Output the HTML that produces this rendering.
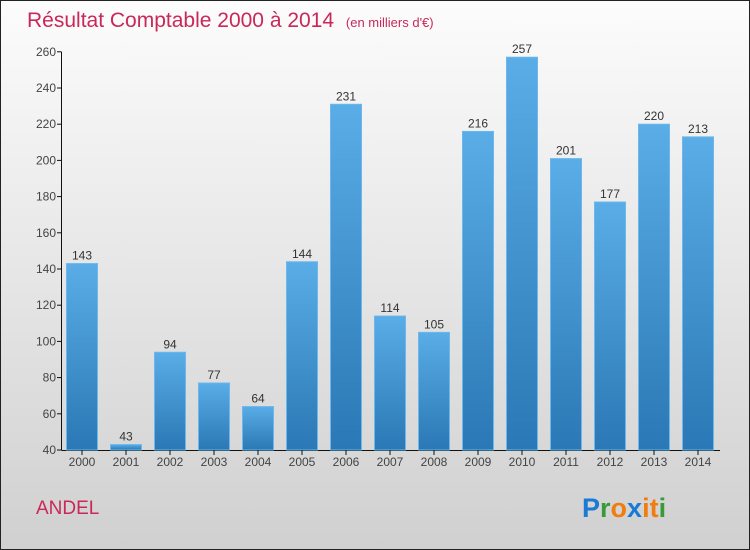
<!DOCTYPE html>
<html><head><meta charset="utf-8"><style>
body{margin:0}
svg{display:block;font-family:"Liberation Sans",sans-serif}
</style></head><body>
<svg width="750" height="550">
<defs>
<linearGradient id="bg" x1="0" y1="0" x2="0" y2="1"><stop offset="0" stop-color="#fcfcfc"/><stop offset="1" stop-color="#d0d0d0"/></linearGradient>
<linearGradient id="bar" x1="0" y1="0" x2="0" y2="1"><stop offset="0" stop-color="#5aade6"/><stop offset="1" stop-color="#2a78b5"/></linearGradient>
</defs>
<rect x="0.5" y="0.5" width="749" height="549" fill="url(#bg)" stroke="#222"/>
<text x="27" y="27" font-size="21" fill="#c8285a">Résultat Comptable 2000 à 2014 <tspan font-size="13" dx="6">(en milliers d'€)</tspan></text>
<g id="plot"></g>
<text x="36" y="514" font-size="19" fill="#c8285a">ANDEL</text>
<text x="582" y="517" font-size="27" font-weight="bold"><tspan fill="#1a7ad4">P</tspan><tspan fill="#3a9a3a">r</tspan><tspan fill="#f07d10">o</tspan><tspan fill="#1a7ad4">x</tspan><tspan fill="#f07d10">i</tspan><tspan fill="#f07d10">t</tspan><tspan fill="#3a9a3a">i</tspan></text>
</svg>
<script>
const categories=["2000","2001","2002","2003","2004","2005","2006","2007","2008","2009","2010","2011","2012","2013","2014"];
const values=[143,43,94,77,64,144,231,114,105,216,257,201,177,220,213];
const yTicks=[40,60,80,100,120,140,160,180,200,220,240,260];
const NS="http://www.w3.org/2000/svg";
const g=document.getElementById('plot');
const y0=450,yMin=40,yMax=260,yTop=51.8;
function y(v){return y0-(v-yMin)*(y0-yTop)/(yMax-yMin);}
function x(i){return 82+i*44;}
function el(t,a,txt){const e=document.createElementNS(NS,t);for(const k in a)e.setAttribute(k,a[k]);if(txt!=null)e.textContent=txt;g.appendChild(e);return e;}
let ax=el('line',{x1:61.5,y1:y(yMax),x2:61.5,y2:y0,stroke:'#111'});


let xa=el('line',{x1:61.5,y1:y0+0.5,x2:720,y2:y0+0.5,stroke:'#111'});


yTicks.forEach(v=>{
 el('line',{x1:57,y1:y(v),x2:61.5,y2:y(v),stroke:'#111'});
 let t=el('text',{x:56,y:y(v)+4,'font-size':12,fill:'#444','text-anchor':'end'},v);
 
 
});
categories.forEach((c,i)=>{
 const v=values[i];
 let b=el('rect',{x:x(i)-15.5,y:y(v),width:31,height:y0-y(v),fill:'url(#bar)',stroke:'#6bb8ec','stroke-width':1});
 
 
 let lv=el('text',{x:x(i),y:y(v)-4,'font-size':12,fill:'#333','text-anchor':'middle'},v);
 
 
 el('line',{x1:x(i),y1:y0,x2:x(i),y2:y0+5,stroke:'#111'});
 let lc=el('text',{x:x(i),y:466,'font-size':12,fill:'#444','text-anchor':'middle'},c);
 
 
});
</script>
</body></html>
